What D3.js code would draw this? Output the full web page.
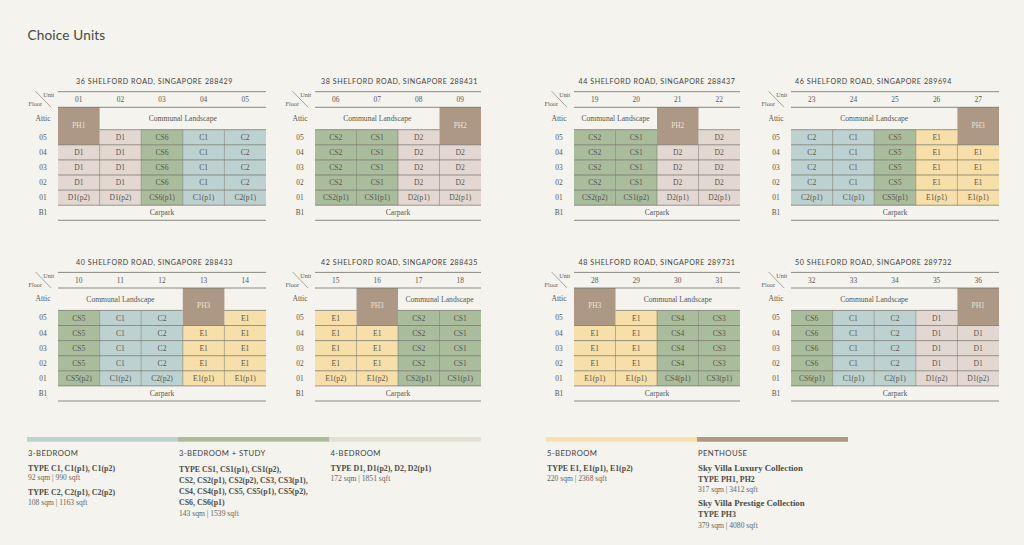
<!DOCTYPE html>
<html><head><meta charset="utf-8">
<script src="https://cdnjs.cloudflare.com/ajax/libs/d3/7.8.5/d3.min.js"></script>
<style>
html,body{margin:0;padding:0;background:#f4f3ee;overflow:hidden}
svg{display:block}
.serif{font-family:"Liberation Serif",serif}
.sans{font-family:Lato,"Open Sans",sans-serif}
</style></head><body><svg id="c" width="1024" height="545"></svg>
<script>
// ---------- data ----------
const chartTitle = "Choice Units";
const floors = ["05","04","03","02","01","B1"];
const panelTitles = [
 "36 SHELFORD ROAD, SINGAPORE 288429","38 SHELFORD ROAD, SINGAPORE 288431",
 "44 SHELFORD ROAD, SINGAPORE 288437","46 SHELFORD ROAD, SINGAPORE 289694",
 "40 SHELFORD ROAD, SINGAPORE 288433","42 SHELFORD ROAD, SINGAPORE 288435",
 "48 SHELFORD ROAD, SINGAPORE 289731","50 SHELFORD ROAD, SINGAPORE 289732"];
const panelUnits = [
 ["01","02","03","04","05"],["06","07","08","09"],["19","20","21","22"],["23","24","25","26","27"],
 ["10","11","12","13","14"],["15","16","17","18"],["28","29","30","31"],["32","33","34","35","36"]];
// upper-floor type per unit
const panelTypes = [
 ["D1","D1","CS6","C1","C2"],["CS2","CS1","D2","D2"],["CS2","CS1","D2","D2"],["C2","C1","CS5","E1","E1"],
 ["CS5","C1","C2","E1","E1"],["E1","E1","CS2","CS1"],["E1","E1","CS4","CS3"],["CS6","C1","C2","D1","D1"]];
// suffix of the ground-floor variant per unit
const panelGround = [
 ["p2","p2","p1","p1","p1"],["p1","p1","p1","p1"],["p2","p2","p1","p1"],["p1","p1","p1","p1","p1"],
 ["p2","p2","p2","p1","p1"],["p2","p2","p1","p1"],["p1","p1","p1","p1"],["p1","p1","p1","p2","p2"]];
// penthouse: unit index and label
const penthouseIndex = [0,3,2,4,3,1,0,4];
const penthouseLabel = ["PH1","PH2","PH2","PH3","PH3","PH3","PH3","PH1"];
// first and last unit index spanned by the landscape label
const landscapeSpan = [[1,4],[0,2],[0,1],[0,3],[0,2],[2,3],[1,3],[0,3]];
const landscapeLabel = "Communal Landscape";
const carparkLabel = "Carpark";
const legendHeads = ["3-BEDROOM","3-BEDROOM + STUDY","4-BEDROOM","5-BEDROOM","PENTHOUSE"];
const legendKeys = ["C","CS","D","E","PH"];
const legendLines = [
 [["b","TYPE C1, C1(p1), C1(p2)"],["s","92 sqm | 990 sqft"],["b","TYPE C2, C2(p1), C2(p2)"],["s","108 sqm | 1163 sqft"]],
 [["b","TYPE CS1, CS1(p1), CS1(p2),"],["b","CS2, CS2(p1), CS2(p2), CS3, CS3(p1),"],["b","CS4, CS4(p1), CS5, CS5(p1), CS5(p2),"],["b","CS6, CS6(p1)"],["s","143 sqm | 1539 sqft"]],
 [["b","TYPE D1, D1(p2), D2, D2(p1)"],["s","172 sqm | 1851 sqft"]],
 [["b","TYPE E1, E1(p1), E1(p2)"],["s","220 sqm | 2368 sqft"]],
 [["h","Sky Villa Luxury Collection"],["b","TYPE PH1, PH2"],["s","317 sqm | 3412 sqft"],["h","Sky Villa Prestige Collection"],["b","TYPE PH3"],["s","379 sqm | 4080 sqft"]]
];
const legendLineY = [
 [468,477.5,492,502],[469,480,491,502.5,513],[468,478],[468,478],[468,479,489,503,514,525]];

// ---------- layout ----------
const BG="#f4f3ee", INK="#58584e", RULE="#6f6f65";
const typeColor = d3.scaleOrdinal(["C","CS","D","E","PH"],["#bdd1d0","#a9bc9c","#e3d8d1","#f6dfa8","#ac9885"]);
const legendColor = d3.scaleOrdinal(legendKeys,["#bdd1cf","#a9bc9c","#e6dfd3","#f8e0aa","#ac9885"]);
const family = t => t.replace(/[0-9].*/,"");
const panelX = [[58,266],[315,481],[574,740],[791,999]];
const titleCenter = [154.5,399.5,657,873.5];
const labelCenter = [43,300,559,776];
const rowTop = [91.7,272.4];
const lineStyle = {b:{size:7.9,weight:700,fill:"#4c4c45"},h:{size:8.8,weight:700,fill:"#4c4c45"},s:{size:7.6,weight:400,fill:"#66665c"}};

const svg = d3.select("#c");
svg.append("rect").attr("width",1024).attr("height",545).attr("fill",BG);
svg.append("text").attr("class","sans").attr("x",27.5).attr("y",40).attr("font-size",13.6)
  .attr("font-weight",400).attr("letter-spacing",0.15).attr("fill","#47473f").text(chartTitle);

function txt(g,x,y,s,size,o={}){
  return g.append("text").attr("class",o.cls||"serif").attr("x",x).attr("y",y)
   .attr("text-anchor",o.anchor||"middle").attr("dominant-baseline","central")
   .attr("font-size",size).attr("font-weight",o.weight||400).attr("letter-spacing",o.ls||0)
   .attr("fill",o.fill||INK).text(s);
}

panelTitles.forEach((title,p)=>{
  const col=p%4,row=p<4?0:1,[x0,x1]=panelX[col],top=rowTop[row];
  const g=svg.append("g");
  const units=panelUnits[p],types=panelTypes[p],ground=panelGround[p];
  const x=d3.scaleBand().domain(d3.range(units.length)).range([x0,x1]);
  const yHead=top+15.6, yAtticEnd=top+38;
  const y=d3.scaleBand().domain(floors).range([yAtticEnd,top+128.6]);
  const cells=[];
  units.forEach((u,i)=>floors.slice(0,5).forEach(f=>{
    const isPH=i===penthouseIndex[p]&&f==="05";
    const base=types[i];
    cells.push({i,f,isPH,base,label:f==="01"?`${base}(${ground[i]})`:base});
  }));
  // cells
  g.selectAll("rect.cell").data(cells.filter(d=>!d.isPH)).join("rect").attr("class","cell")
    .attr("x",d=>x(d.i)).attr("y",d=>y(d.f)).attr("width",x.bandwidth()).attr("height",y.bandwidth())
    .attr("fill",d=>typeColor(family(d.base)));
  const ph=penthouseIndex[p];
  g.append("rect").attr("x",x(ph)).attr("y",yHead).attr("width",x.bandwidth()).attr("height",y("04")-yHead)
    .attr("fill",typeColor("PH"));
  // horizontal rules
  floors.slice(0,5).forEach(f=>{
    units.forEach((u,i)=>{
      if(!(i===ph&&f==="05")) g.append("line").attr("x1",x(i)).attr("x2",x(i)+x.bandwidth())
        .attr("y1",y(f)).attr("y2",y(f)).attr("stroke",RULE).attr("stroke-width",.7);
    });
  });
  g.append("line").attr("x1",x0).attr("x2",x1).attr("y1",y("B1")).attr("y2",y("B1")).attr("stroke",RULE).attr("stroke-width",.7);
  // vertical rules
  for(let i=1;i<units.length;i++){
    const touchesPH=i===ph||i===ph+1;
    g.append("line").attr("x1",x(i)).attr("x2",x(i))
      .attr("y1",touchesPH?y("04"):y("05")).attr("y2",y("B1")).attr("stroke",RULE).attr("stroke-width",.5);
  }
  // frame rules
  [top,yHead,top+128.6].forEach(v=>g.append("line").attr("x1",x0).attr("x2",x1).attr("y1",v).attr("y2",v)
     .attr("stroke",RULE).attr("stroke-width",.8));
  // cell labels
  g.selectAll("text.cl").data(cells.filter(d=>!d.isPH)).join("text").attr("class","cl serif")
    .attr("x",d=>x(d.i)+x.bandwidth()/2).attr("y",d=>y(d.f)+y.bandwidth()/2+.3)
    .attr("text-anchor","middle").attr("dominant-baseline","central").attr("font-size",7.6)
    .attr("fill",INK).text(d=>d.label);
  txt(g,x(ph)+x.bandwidth()/2,(yHead+y("04"))/2-1,penthouseLabel[p],7.4,{fill:"#ebe3d6"});
  // header
  txt(g,titleCenter[col],top-9.8,title,7.1,{cls:"sans",ls:.56,weight:400,fill:"#3f3f39"});
  units.forEach((u,i)=>txt(g,x(i)+x.bandwidth()/2,top+7.7,u,7.4));
  const [a,b]=landscapeSpan[p];
  txt(g,(x(a)+x(b)+x.bandwidth())/2,top+26.7,landscapeLabel,7.6);
  txt(g,(x0+x1)/2,y("B1")+y.bandwidth()/2,carparkLabel,7.6);
  // row labels
  const lc=labelCenter[col];
  txt(g,lc,top+26.5,"Attic",7.6);
  floors.forEach(f=>txt(g,lc,y(f)+y.bandwidth()/2,f,7.4));
  // corner
  g.append("line").attr("x1",x0-22.5).attr("y1",top-0.5).attr("x2",x0-7).attr("y2",top+15.5).attr("stroke",RULE).attr("stroke-width",.6);
  txt(g,x0-3.8,top+3,"Unit",6.2,{anchor:"end"});
  txt(g,x0-16,top+12,"Floor",6.2,{anchor:"end"});
});

// ---------- legend ----------
const legendEdges=[[27,178],[178,329.5],[329.5,481],[546,697],[697,848]];
legendHeads.forEach((h,i)=>{
  const [a,b]=legendEdges[i];
  svg.append("rect").attr("x",a).attr("y",437).attr("width",b-a).attr("height",4.7).attr("fill",legendColor(legendKeys[i]));
  txt(svg,a+1,453,h,7.7,{cls:"sans",anchor:"start",ls:.4,fill:"#3f3f39"});
  legendLines[i].forEach((l,j)=>{
    const st=lineStyle[l[0]];
    txt(svg,a+1,legendLineY[i][j],l[1],st.size,{anchor:"start",weight:st.weight,fill:st.fill});
  });
});
</script></body></html>
